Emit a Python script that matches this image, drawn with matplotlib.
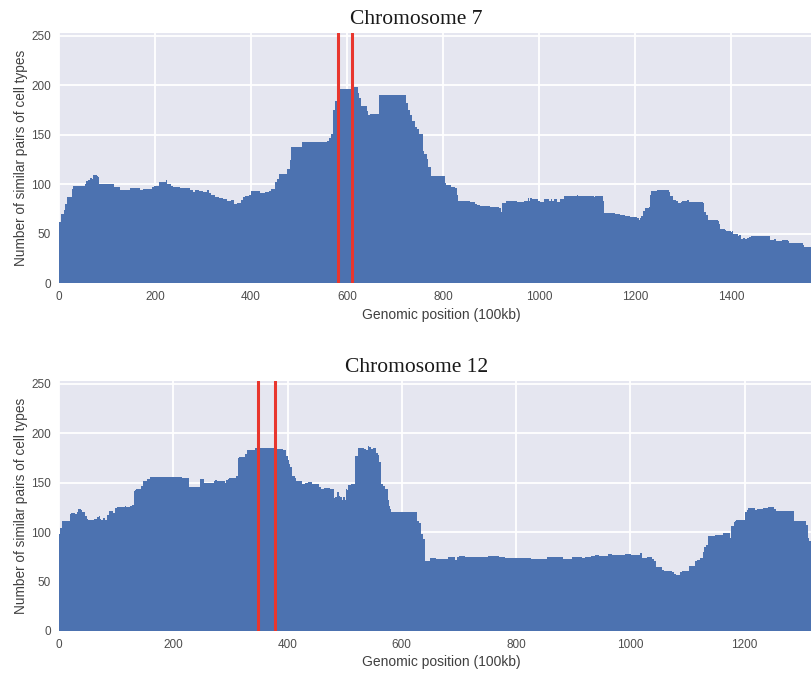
import numpy as np
import matplotlib
matplotlib.use("Agg")
import matplotlib.pyplot as plt

# step profiles: bin where a level starts, and the level
chr7_start = [0, 4, 10, 13, 17, 28, 30, 54, 57, 60, 65, 68, 71, 79, 81, 83,
              114, 127, 148, 169, 175, 194, 198, 208, 223, 224, 233, 237, 253,
              273, 279, 283, 291, 300, 308, 312, 316, 325, 333, 341, 351, 358,
              364, 371, 380, 384, 387, 396, 401, 418, 429, 437, 442, 450, 454,
              458, 475, 481, 483, 506, 558, 562, 566, 571, 575, 583, 614, 623,
              626, 630, 641, 644, 647, 666, 723, 727, 732, 736, 741, 746, 750,
              758, 761, 766, 769, 775, 804, 807, 816, 825, 829, 831, 856, 867,
              871, 877, 898, 917, 921, 923, 931, 954, 969, 977, 979, 981, 985,
              998, 1002, 1010, 1021, 1025, 1027, 1031, 1037, 1044, 1052, 1079,
              1081, 1114, 1116, 1133, 1135, 1158, 1168, 1179, 1189, 1204, 1208,
              1210, 1212, 1216, 1221, 1229, 1231, 1233, 1246, 1271, 1273, 1279,
              1285, 1290, 1296, 1298, 1308, 1312, 1342, 1344, 1348, 1352, 1373,
              1375, 1377, 1387, 1390, 1400, 1402, 1404, 1414, 1417, 1421, 1425,
              1429, 1433, 1437, 1442, 1481, 1489, 1494, 1506, 1518, 1521, 1546,
              1550, 1552]
chr7_count = [62, 70, 74, 80, 87, 95, 98, 100, 103, 104, 106, 105, 109, 108, 107, 100,
              97, 94, 96, 94, 95, 97, 98, 102, 104, 100, 98, 97, 96,
              94, 92, 94, 93, 92, 94, 91, 89, 87, 86, 85, 83, 84,
              80, 81, 84, 87, 88, 89, 93, 91, 92, 93, 95, 102, 105,
              110, 115, 125, 138, 143, 144, 147, 151, 175, 184, 196, 198, 192,
              187, 179, 174, 170, 171, 190, 182, 175, 170, 164, 158, 156, 151,
              134, 131, 126, 117, 108, 101, 99, 97, 96, 89, 83, 82, 80,
              79, 78, 77, 76, 72, 81, 83, 82, 83, 86, 83, 86, 85,
              83, 82, 85, 83, 85, 83, 85, 82, 85, 88, 89,
              88, 87, 88, 83, 71, 70, 69, 68, 67, 66, 64,
              66, 68, 73, 76, 77, 89, 93, 94, 92, 88, 84,
              83, 81, 82, 83, 84, 82, 81, 72, 69, 64, 63,
              60, 55, 54, 53, 52, 53, 50, 48, 49, 45, 46,
              45, 46, 47, 48, 44, 45, 43, 44, 43, 41, 40,
              38, 36]
chr7_end = 1592

chr12_start = [0, 2, 5, 19, 21, 28, 31, 33, 38, 40, 45, 49, 51, 61, 66, 70, 72,
               73, 77, 80, 84, 87, 94, 98, 101, 115, 117, 124, 128, 131, 133,
               135, 143, 147, 154, 159, 215, 227, 247, 254, 271, 273, 276, 290,
               292, 296, 297, 310, 313, 315, 325, 329, 343, 381, 392, 397, 401,
               402, 404, 408, 413, 415, 425, 430, 436, 443, 455, 458, 464, 474,
               481, 483, 486, 490, 492, 495, 497, 500, 502, 504, 506, 511, 518,
               523, 534, 537, 541, 542, 546, 549, 555, 558, 560, 563, 567, 570,
               576, 577, 579, 581, 626, 630, 633, 637, 640, 650, 660, 680, 693,
               697, 700, 711, 751, 770, 781, 826, 854, 882, 898, 915, 921, 931,
               938, 945, 961, 968, 991, 1001, 1017, 1020, 1029, 1038, 1041, 1045,
               1055, 1059, 1073, 1076, 1080, 1087, 1090, 1103, 1113, 1117, 1122,
               1127, 1129, 1132, 1136, 1148, 1162, 1174, 1176, 1181, 1183, 1185,
               1201, 1204, 1206, 1218, 1222, 1232, 1241, 1251, 1255, 1286, 1307,
               1311, 1313]
chr12_count = [98, 104, 111, 118, 119, 118, 120, 123, 122, 120, 116, 113, 112, 113, 115, 116, 113,
               112, 114, 112, 117, 121, 119, 124, 125, 126, 125, 127, 128, 142, 143,
               144, 147, 152, 154, 156, 155, 146, 154, 150, 152, 153, 152, 150,
               153, 154, 155, 157, 175, 176, 179, 183, 185, 184, 183, 177, 173,
               169, 166, 157, 155, 152, 149, 150, 151, 149, 146, 144, 145, 144,
               135, 136, 141, 137, 136, 133, 136, 133, 144, 143, 148, 149, 177,
               185, 184, 183, 187, 186, 184, 185, 180, 178, 171, 149, 147, 144,
               133, 127, 123, 120, 111, 109, 98, 93, 71, 74, 73, 75, 72,
               75, 76, 75, 76, 75, 74, 73, 75, 73, 75, 74, 75, 76,
               77, 76, 78, 77, 78, 77, 79, 74, 75, 73, 71, 65,
               62, 61, 60, 58, 57, 60, 61, 66, 71, 72, 74,
               80, 85, 87, 96, 97, 99, 94, 106, 110, 111, 112,
               120, 122, 124, 122, 123, 124, 125, 123, 121, 111, 107,
               94, 91]
chr12_end = 1333

chromosomes = ["Chromosome 7", "Chromosome 12"]
starts = [chr7_start, chr12_start]
counts = [chr7_count, chr12_count]
ends = [chr7_end, chr12_end]
red_lines = [[581, 610], [348, 378]]
shown_xmax = [1569, 1318]

plt.style.use("seaborn-v0_8-darkgrid")
plt.rcParams["font.family"] = ["Liberation Sans", "DejaVu Sans"]
plt.rcParams["axes.facecolor"] = "#E5E6F0"
plt.rcParams["grid.linewidth"] = 1.3

fig = plt.figure(figsize=(8.12, 6.74), dpi=100)
axes_pos = [[0.0727, 0.5801, 0.9273, 0.3709],
            [0.0727, 0.0638, 0.9273, 0.3709]]

for i in range(2):
    ax = fig.add_axes(axes_pos[i])
    edges = starts[i] + [ends[i]]
    ax.stairs(counts[i], edges, fill=True, color="#4C72B0", baseline=0)
    for xv in red_lines[i]:
        ax.axvline(xv, color="#E8362E", linewidth=2.2)
    ax.set_xlim(0, shown_xmax[i])
    ax.set_ylim(0, 253)
    ax.set_yticks([0, 50, 100, 150, 200, 250])
    ax.tick_params(labelsize=8.5, colors=".3", pad=6)
    ax.set_xlabel("Genomic position (100kb)", fontsize=10, color=".25")
    ax.xaxis.set_label_coords(0.508, -0.098)
    ax.set_ylabel("Number of similar pairs of cell types", fontsize=9.8, color=".25",
                  labelpad=2)
    ax.set_title(chromosomes[i], fontsize=15.5, family="Liberation Serif",
                 color=".1", x=0.475, pad=6.5)

fig.savefig("out.png", dpi=100)
